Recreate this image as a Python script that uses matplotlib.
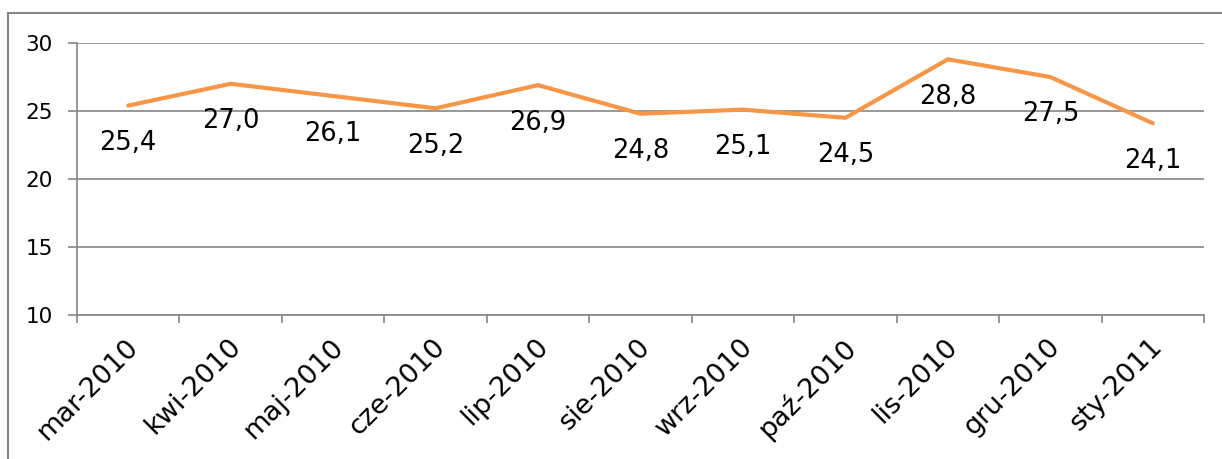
import matplotlib
matplotlib.use("Agg")
import matplotlib.pyplot as plt
from matplotlib.lines import Line2D
import matplotlib.transforms as mtransforms
import numpy as np

months = ['mar-2010', 'kwi-2010', 'maj-2010', 'cze-2010', 'lip-2010', 'sie-2010',
          'wrz-2010', 'paź-2010', 'lis-2010', 'gru-2010', 'sty-2011']
values = [25.4, 27.0, 26.1, 25.2, 26.9, 24.8, 25.1, 24.5, 28.8, 27.5, 24.1]
yticks = [10, 15, 20, 25, 30]

plt.rcParams['font.family'] = ['DejaVu Sans']
grey = '#868686'

fig = plt.figure(figsize=(12.22, 4.59), dpi=100)
ax = fig.add_axes([77/1222, 1-315/459, (1204-77)/1222, (315-43)/459])

x = np.arange(len(months))
ax.plot(x, values, color='#F79646', lw=3.0, solid_capstyle='round', solid_joinstyle='round')
for xi, v in zip(x, values):
    ax.annotate(f'{v:.1f}'.replace('.', ','), (xi, v), xytext=(0, -27),
                textcoords='offset points', ha='center', va='center', fontsize=18.5)

ax.set_xlim(-0.5, len(months) - 0.5)
ax.set_ylim(10, 30)
ax.set_yticks(yticks)
ax.set_yticklabels([str(t) for t in yticks])
ax.yaxis.grid(True, color=grey, lw=1.2)
ax.set_axisbelow(True)

ax.set_xticks(x)
ax.set_xticklabels(months, rotation=45, ha='right', va='top', rotation_mode='anchor')
ax.set_xticks(np.arange(-0.5, len(months)), minor=True)
ax.tick_params(axis='x', which='major', length=0, labelsize=19.5, pad=12)
ax.tick_params(axis='x', which='minor', length=6, color=grey, width=1.2)
ax.tick_params(axis='y', length=6.5, color=grey, width=1.2, labelsize=15.5, pad=11)

# nudge the rotated month labels a little left/down
shift = mtransforms.ScaledTranslation(-3/100, -2/100, fig.dpi_scale_trans)
for lab in ax.get_xticklabels():
    lab.set_transform(lab.get_transform() + shift)

for s in ['top', 'right']:
    ax.spines[s].set_visible(False)
for s in ['left', 'bottom']:
    ax.spines[s].set_color(grey)
    ax.spines[s].set_linewidth(1.2)

# outer chart border
fig.add_artist(Line2D([8/1222, 1], [1-13/459, 1-13/459], color=grey, lw=1.5))
fig.add_artist(Line2D([8/1222, 8/1222], [0, 1-13/459], color=grey, lw=1.5))

fig.savefig('out.png', dpi=100)
